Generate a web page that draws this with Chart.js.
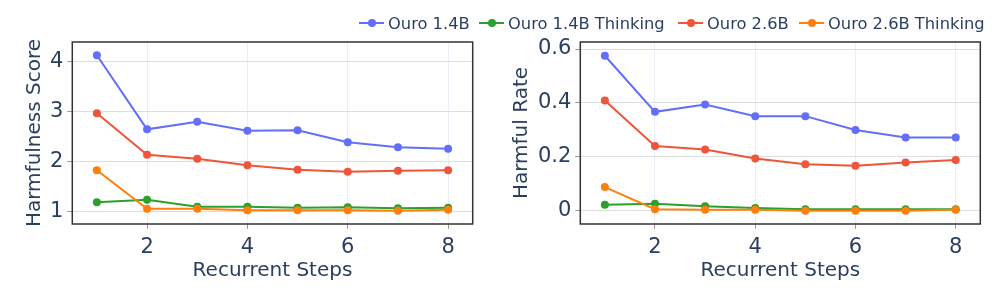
<!DOCTYPE html>
<html>
<head>
<meta charset="utf-8">
<script src="https://cdn.jsdelivr.net/npm/chart.js@4"></script>
<style>
  html, body { margin: 0; padding: 0; background: #fff; }
  #wrap { position: relative; width: 997px; height: 291px; overflow: hidden; }
  canvas { position: absolute; top: 0; }
  #legend { position: absolute; top: 0; left: 0; width: 997px; height: 40px; font-family: 'DejaVu Sans', sans-serif; font-size: 16.3px; color: #2a3f5f; }
  .item { position: absolute; top: 12px; height: 22px; display: flex; align-items: center; white-space: nowrap; }
  .sym { position: relative; width: 25px; height: 2px; margin-right: 4px; }
  .sym i { position: absolute; left: 9px; top: -3px; width: 8px; height: 8px; border-radius: 50%; }
</style>
</head>
<body>
<div id="wrap">
  <canvas id="left" width="497" height="291" style="left:0;width:497px;height:291px"></canvas>
  <canvas id="right" width="500" height="291" style="left:497px;width:500px;height:291px"></canvas>
  <div id="legend"></div>
</div>
<script>
const steps = [1, 2, 3, 4, 5, 6, 7, 8];
const seriesNames = ['Ouro 1.4B', 'Ouro 1.4B Thinking', 'Ouro 2.6B', 'Ouro 2.6B Thinking'];
const seriesColors = ['#636efa', '#2ca02c', '#ef553b', '#ff7f0e'];

const score14  = [4.12, 2.64, 2.79, 2.61, 2.62, 2.38, 2.28, 2.25];
const score14T = [1.18, 1.23, 1.09, 1.09, 1.07, 1.08, 1.06, 1.07];
const score26  = [2.96, 2.13, 2.05, 1.92, 1.83, 1.79, 1.81, 1.82];
const score26T = [1.82, 1.05, 1.05, 1.02, 1.02, 1.02, 1.01, 1.03];

const rate14  = [0.575, 0.367, 0.394, 0.351, 0.351, 0.300, 0.272, 0.272];
const rate14T = [0.022, 0.026, 0.017, 0.010, 0.006, 0.006, 0.006, 0.006];
const rate26  = [0.409, 0.240, 0.227, 0.194, 0.173, 0.167, 0.179, 0.188];
const rate26T = [0.088, 0.006, 0.004, 0.004, 0.000, 0.000, 0.000, 0.004];

const xTicks = [2, 4, 6, 8];
const scoreTicks = [1, 2, 3, 4];
const rateTicks = [0, 0.2, 0.4, 0.6];

Chart.defaults.font.family = "'DejaVu Sans', sans-serif";
Chart.defaults.color = '#2a3f5f';

const TEXT = '#2a3f5f';

const boxPlugin = {
  id: 'box',
  afterDraw(chart) {
    const a = chart.chartArea, ctx = chart.ctx;
    ctx.save();
    ctx.strokeStyle = '#333';
    ctx.lineWidth = 1.5;
    ctx.strokeRect(a.left, a.top, a.right - a.left, a.bottom - a.top);
    ctx.restore();
  }
};

function makeDatasets(arrs) {
  return arrs.map((arr, i) => ({
    label: seriesNames[i],
    data: steps.map((s, j) => ({ x: s, y: arr[j] })),
    borderColor: seriesColors[i],
    backgroundColor: seriesColors[i],
    borderWidth: 2,
    pointRadius: 4,
    pointBorderWidth: 0,
    pointHoverRadius: 4,
    tension: 0,
    order: arrs.length - 1 - i
  }));
}

function makeChart(id, arrs, opts) {
  return new Chart(document.getElementById(id), {
    type: 'line',
    data: { datasets: makeDatasets(arrs) },
    options: {
      responsive: false,
      animation: false,
      devicePixelRatio: 1,
      layout: { padding: { left: 0, right: opts.padRight, top: 42, bottom: 0 } },
      plugins: { legend: { display: false }, tooltip: { enabled: false } },
      scales: {
        x: {
          type: 'linear',
          min: 0.51, max: 8.49,
          afterFit: s => { s.height = 67; },
          afterBuildTicks: s => { s.ticks = xTicks.map(v => ({ value: v })); },
          ticks: { font: { size: 21 }, color: TEXT, padding: 6, includeBounds: false, maxRotation: 0 },
          grid: { color: '#e8edf6', lineWidth: 1, drawTicks: true, tickLength: 5, tickColor: '#999' },
          border: { display: false },
          title: { display: true, text: 'Recurrent Steps', font: { size: 20 }, color: TEXT, padding: { top: 8, bottom: 8 } }
        },
        y: {
          type: 'linear',
          min: opts.yMin, max: opts.yMax,
          afterFit: s => { s.width = opts.yWidth; },
          afterBuildTicks: s => { s.ticks = opts.yTicks.map(v => ({ value: v })); },
          ticks: { font: { size: 21 }, color: TEXT, padding: 4, includeBounds: false,
                   callback: v => String(Number(v.toFixed(2))) },
          grid: { color: '#dedede', lineWidth: 1, drawTicks: true, tickLength: 5, tickColor: '#999' },
          border: { display: false },
          title: { display: true, text: opts.yTitle, font: { size: 20 }, color: TEXT, padding: { top: opts.titlePad, bottom: 0 } }
        }
      }
    },
    plugins: [boxPlugin]
  });
}

makeChart('left', [score14, score14T, score26, score26T], {
  padRight: 24.3, yMin: 0.746, yMax: 4.386, yWidth: 72.3, yTicks: scoreTicks, yTitle: 'Harmfulness Score', titlePad: 23
});
makeChart('right', [rate14, rate14T, rate26, rate26T], {
  padRight: 16.7, yMin: -0.049, yMax: 0.626, yWidth: 83.3, yTicks: rateTicks, yTitle: 'Harmful Rate', titlePad: 13
});

// Legend (HTML text)
const legendLeft = [359, 479, 678, 799];
const legend = document.getElementById('legend');
seriesNames.forEach((name, i) => {
  const it = document.createElement('div');
  it.className = 'item';
  it.style.left = legendLeft[i] + 'px';
  const sym = document.createElement('span');
  sym.className = 'sym';
  sym.style.background = seriesColors[i];
  const dot = document.createElement('i');
  dot.style.background = seriesColors[i];
  sym.appendChild(dot);
  const txt = document.createElement('span');
  txt.textContent = name;
  it.appendChild(sym);
  it.appendChild(txt);
  legend.appendChild(it);
});
</script>
</body>
</html>
